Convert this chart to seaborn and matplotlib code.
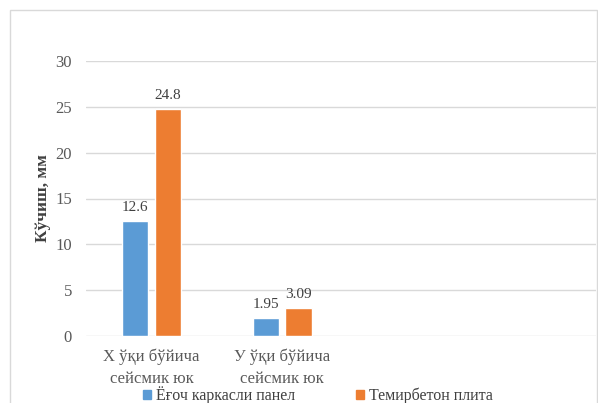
import matplotlib
matplotlib.use("Agg")
import matplotlib.pyplot as plt
import seaborn as sns
import pandas as pd
from matplotlib.patches import Rectangle

# Displacement values per load case and slab type
categories = ["X ўқи бўйича\nсейсмик юк", "У ўқи бўйича\nсейсмик юк"]
series_names = ["Ёғоч каркасли панел", "Темирбетон плита"]
wood_panel = [12.6, 1.95]
rc_slab = [24.8, 3.09]
y_ticks = [0, 5, 10, 15, 20, 25, 30]

rows = []
for cat, a, b in zip(categories, wood_panel, rc_slab):
    rows.append({"case": cat, "type": series_names[0], "value": a})
    rows.append({"case": cat, "type": series_names[1], "value": b})
df = pd.DataFrame(rows)

sns.set_theme(style="white")
plt.rcParams["font.family"] = ["Liberation Serif", "DejaVu Serif"]

fig = plt.figure(figsize=(5.98, 4.03), dpi=100)
fig.patch.set_facecolor("white")

# chart-area frame
fig.patches.append(Rectangle((10 / 598, -0.05), 587 / 598, (403 - 10) / 403 + 0.05,
                             transform=fig.transFigure, fill=False,
                             edgecolor="#D9D9D9", linewidth=1.0, zorder=0))

ax = fig.add_axes([86 / 598, (403 - 336) / 403, 510 / 598, 275 / 403])
palette = {series_names[0]: "#5B9BD5", series_names[1]: "#ED7D31"}
sns.barplot(data=df, x="case", y="value", hue="type", palette=palette,
            width=0.5, gap=0.2, ax=ax, legend=True, saturation=1)

ax.set_xlim(-0.5, 3.4)
ax.set_ylim(0, 30)
ax.set_yticks(y_ticks)
ax.yaxis.grid(True, color="#D9D9D9", linewidth=1.0)
ax.set_axisbelow(True)
for s in ax.spines.values():
    s.set_visible(False)
ax.tick_params(axis="y", length=0, labelsize=12, colors="#595959", pad=10)
ax.tick_params(axis="x", length=0, labelsize=12, colors="#595959", pad=9)
for lbl in ax.get_xticklabels():
    lbl.set_linespacing(1.5)

ax.set_xlabel("")
ax.set_ylabel("Кўчиш, мм", fontsize=12.5, fontweight="bold", color="#404040", labelpad=3)

for cont in ax.containers:
    ax.bar_label(cont, fmt="%g", padding=5, fontsize=11, color="#404040")

leg = ax.get_legend()
leg.remove()
handles = [Rectangle((0, 0), 1, 1, color=palette[n]) for n in series_names]
fig.legend(handles, series_names, loc="center", ncol=2,
           bbox_to_anchor=(318 / 598, 8 / 403), frameon=False,
           fontsize=11.5, handlelength=0.5, handleheight=0.5,
           handletextpad=0.3, columnspacing=3.8, labelcolor="#404040",
           borderpad=0.0)

fig.savefig("out.png", dpi=100, facecolor="white")
